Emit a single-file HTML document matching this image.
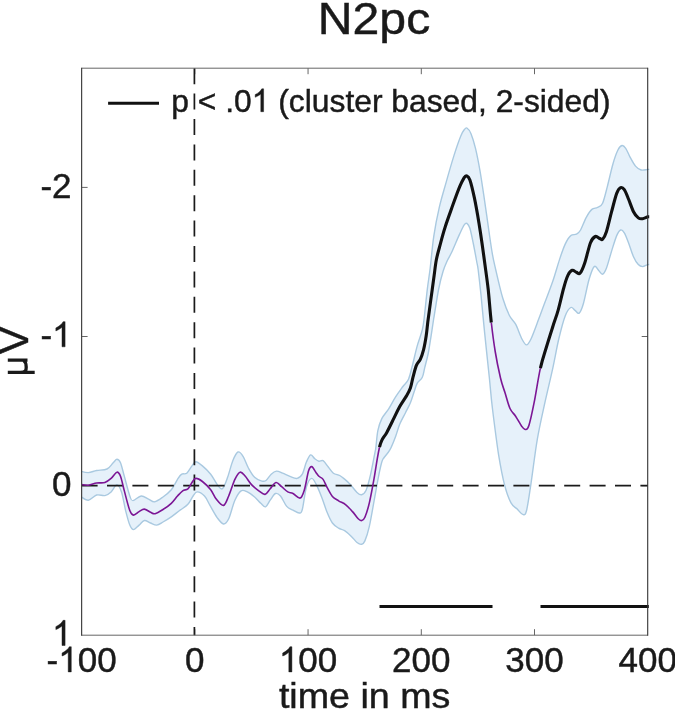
<!DOCTYPE html>
<html><head><meta charset="utf-8"><title>N2pc</title>
<style>
html,body{margin:0;padding:0;background:#fff;}
body{width:675px;height:710px;overflow:hidden;font-family:"Liberation Sans",sans-serif;}
svg{display:block;will-change:transform;}
text{font-family:"Liberation Sans",sans-serif;fill:#1a1a1a;stroke:#1a1a1a;stroke-width:0.45px;}
</style></head><body>
<svg width="675" height="710" viewBox="0 0 675 710">
<defs>
<clipPath id="ax"><rect x="81.6" y="68.2" width="567.6" height="567.0"/></clipPath>
</defs>
<rect width="675" height="710" fill="#fff"/>
<g stroke="#666" stroke-width="1.0" fill="none"><path d="M194.8 635.2V629.2M194.8 68.2V74.2"/><path d="M308.05 635.2V629.2M308.05 68.2V74.2"/><path d="M421.3 635.2V629.2M421.3 68.2V74.2"/><path d="M534.5 635.2V629.2M534.5 68.2V74.2"/><path d="M81.6 187.4H87.6M647.7 187.4H641.7"/><path d="M81.6 336.5H87.6M647.7 336.5H641.7"/><path d="M81.6 485.7H87.6M647.7 485.7H641.7"/></g>
<g clip-path="url(#ax)">
<path d="M80.0 471.1C81.4 471.4 85.5 472.7 88.3 472.6C91.1 472.5 93.5 471.1 96.6 470.5C99.7 469.9 104.2 470.3 107.0 469.0C109.8 467.7 111.5 464.4 113.2 462.8C114.9 461.2 115.7 459.3 116.9 459.3C118.1 459.3 119.2 459.8 120.5 462.8C121.8 465.8 123.0 471.8 124.6 477.3C126.1 482.8 128.4 492.1 129.8 496.0C131.2 499.9 131.0 500.6 132.9 500.6C134.8 500.6 138.6 496.2 141.2 496.0C143.8 495.8 146.2 498.1 148.5 499.1C150.8 500.1 152.3 502.2 154.7 501.8C157.1 501.4 160.2 499.0 163.0 497.0C165.8 495.0 168.9 492.7 171.3 489.8C173.7 486.9 175.8 482.0 177.5 479.4C179.2 476.8 180.1 475.2 181.7 474.2C183.2 473.2 185.1 474.6 186.8 473.2C188.5 471.8 190.5 467.8 192.0 465.9C193.5 464.0 194.1 461.8 195.8 461.8C197.5 461.8 199.9 463.8 202.4 465.9C204.9 468.0 208.2 471.1 210.7 474.2C213.2 477.3 215.4 482.2 217.3 484.6C219.2 487.0 220.7 490.0 222.4 488.8C224.1 487.6 225.9 482.0 227.6 477.3C229.3 472.6 231.1 464.9 232.8 460.7C234.5 456.5 236.3 452.7 238.0 452.0C239.7 451.3 241.5 453.9 243.2 456.6C244.9 459.3 246.5 464.6 248.4 468.0C250.3 471.4 252.3 475.1 254.6 477.3C256.8 479.5 260.0 480.6 261.9 481.1C263.8 481.6 264.4 481.6 266.0 480.5C267.6 479.4 269.5 475.8 271.2 474.2C272.9 472.6 274.5 471.3 276.4 471.1C278.3 470.9 280.4 472.3 282.6 473.2C284.9 474.1 287.5 475.4 289.9 476.3C292.3 477.2 295.0 478.8 297.1 478.4C299.2 478.0 300.7 477.0 302.3 474.2C303.9 471.4 305.1 465.0 306.5 461.8C307.9 458.6 309.2 455.4 310.6 454.9C312.0 454.4 313.4 457.6 314.8 458.7C316.2 459.8 317.5 460.9 318.9 461.2C320.3 461.5 321.5 459.7 323.1 460.7C324.7 461.7 326.6 464.9 328.3 467.0C330.0 469.1 331.5 471.8 333.4 473.2C335.3 474.6 337.8 474.5 339.7 475.5C341.6 476.5 343.1 477.9 344.9 479.4C346.7 480.9 348.3 482.3 350.3 484.5C352.3 486.7 355.1 490.7 357.0 492.4C358.9 494.1 360.1 495.1 361.6 494.7C363.1 494.3 364.6 493.6 366.1 490.2C367.6 486.8 369.1 480.8 370.6 474.4C372.1 468.0 374.2 456.3 375.1 451.8C376.0 447.3 375.4 450.8 375.9 447.2C376.4 443.6 376.9 435.2 377.9 430.4C378.9 425.6 380.0 422.2 381.8 418.6C383.6 415.0 386.4 412.4 388.7 408.8C391.0 405.2 393.3 400.5 395.6 396.9C397.9 393.3 400.4 389.9 402.5 387.0C404.6 384.1 406.9 382.8 408.5 379.2C410.1 375.6 410.9 371.0 412.4 365.4C413.9 359.8 415.6 351.5 417.3 345.6C419.0 339.7 421.2 334.5 422.3 329.9C423.4 325.3 423.4 324.8 424.2 318.0C425.0 311.2 426.3 297.6 427.3 289.3C428.3 281.0 429.1 276.9 430.2 268.0C431.3 259.1 432.3 246.4 433.8 236.2C435.3 226.0 437.3 215.9 439.4 206.9C441.5 197.9 443.8 190.7 446.2 182.1C448.6 173.5 451.7 162.8 454.1 155.1C456.5 147.4 459.1 140.1 460.8 135.9C462.5 131.7 463.2 131.1 464.2 129.8C465.2 128.5 465.8 127.4 466.9 128.0C468.0 128.7 469.6 130.3 471.0 133.7C472.4 137.1 474.0 142.1 475.5 148.3C477.0 154.5 478.5 162.2 480.0 170.8C481.5 179.4 483.0 189.9 484.5 200.1C486.0 210.2 487.7 222.7 489.0 231.7C490.3 240.7 491.3 247.8 492.4 254.2C493.5 260.6 494.1 262.6 495.8 270.0C497.5 277.4 500.5 290.7 502.8 298.3C505.1 305.9 507.3 311.2 509.4 315.5C511.5 319.8 513.5 320.3 515.6 324.2C517.7 328.1 520.0 335.2 521.8 338.7C523.6 342.1 525.0 344.9 526.5 344.9C528.0 344.9 529.0 343.1 531.1 338.7C533.2 334.3 536.7 324.3 538.9 318.6C541.1 312.9 541.8 310.7 544.1 304.6C546.4 298.5 549.9 289.6 552.5 282.1C555.1 274.6 557.4 265.9 559.5 259.6C561.6 253.3 563.3 248.1 565.2 244.1C567.1 240.1 568.9 237.2 570.8 235.6C572.7 233.9 574.8 235.1 576.4 234.2C578.0 233.3 579.0 232.8 580.6 230.0C582.2 227.2 584.4 220.7 586.3 217.3C588.2 213.9 590.0 211.0 591.9 209.4C593.8 207.8 595.7 208.5 597.5 207.5C599.3 206.5 601.0 206.7 602.6 203.2C604.2 199.7 605.7 192.9 607.4 186.3C609.1 179.7 611.3 169.8 613.0 163.8C614.7 157.8 616.3 153.4 617.8 150.3C619.3 147.2 620.7 145.8 622.0 145.5C623.3 145.2 624.4 146.4 625.7 148.3C627.0 150.2 628.3 153.8 629.9 156.8C631.5 159.8 633.6 163.9 635.5 166.1C637.4 168.3 639.0 169.4 641.1 170.0C643.2 170.6 646.4 169.5 648.0 169.4C649.6 169.3 650.5 169.4 651.0 169.4L651.0 264.6C650.5 264.6 649.4 264.3 648.0 264.6C646.6 264.9 644.2 266.6 642.6 266.6C641.0 266.6 639.8 266.2 638.3 264.6C636.8 263.0 635.1 260.5 633.5 256.8C631.9 253.2 630.0 246.7 628.5 242.7C627.0 238.7 625.6 234.9 624.3 232.8C623.0 230.7 621.9 229.5 620.6 230.0C619.3 230.5 618.2 232.1 616.7 235.6C615.2 239.1 613.3 245.7 611.6 251.1C609.9 256.5 608.0 264.1 606.5 268.0C605.0 271.9 603.9 273.7 602.6 274.2C601.3 274.7 600.3 272.1 598.9 270.8C597.5 269.5 595.8 265.2 594.2 266.6C592.6 268.0 590.9 273.2 589.1 279.3C587.3 285.4 585.1 297.6 583.5 303.2C581.9 308.8 580.6 311.9 579.2 313.1C577.8 314.3 576.4 311.2 575.0 310.3C573.6 309.4 572.4 306.6 570.8 307.5C569.2 308.4 567.2 310.8 565.2 315.9C563.2 321.0 561.1 329.3 559.0 338.0C556.9 346.7 555.1 357.4 552.8 368.1C550.5 378.8 547.6 390.3 545.0 402.2C542.4 414.1 539.6 426.0 537.3 439.4C535.0 452.8 532.9 470.9 531.1 482.8C529.3 494.7 527.9 505.4 526.5 510.7C525.1 516.0 524.2 514.7 522.7 514.4C521.2 514.1 519.2 511.0 517.2 509.1C515.2 507.2 513.1 506.8 511.0 502.9C508.9 499.0 506.9 493.9 504.8 485.9C502.7 477.9 500.7 467.7 498.6 454.9C496.6 442.1 494.1 421.9 492.5 409.0C490.9 396.1 490.6 389.6 489.3 377.2C488.0 364.8 486.2 348.1 484.8 334.4C483.4 320.7 482.1 305.7 481.0 295.0C479.9 284.3 478.9 275.7 478.2 270.0C477.5 264.3 477.4 265.5 476.6 261.0C475.8 256.5 474.3 248.4 473.2 243.0C472.1 237.6 470.9 231.6 469.9 228.3C468.8 225.0 467.8 224.0 466.9 223.4C465.9 222.8 465.4 223.2 464.2 224.9C463.0 226.7 461.8 229.4 459.7 233.9C457.6 238.4 453.8 247.7 451.8 252.0C449.8 256.4 449.1 256.8 447.6 260.0C446.2 263.2 444.6 266.4 443.1 271.3C441.6 276.2 440.1 281.8 438.6 289.3C437.1 296.8 435.0 311.2 434.1 316.3C433.2 321.4 434.0 316.8 433.5 320.0C433.0 323.2 432.0 330.2 431.1 335.8C430.2 341.4 429.2 348.2 428.2 353.5C427.1 358.8 425.8 363.4 424.8 367.3C423.8 371.2 423.6 374.6 422.3 377.2C421.1 379.8 418.6 380.8 417.3 383.1C416.0 385.4 415.5 387.7 414.4 391.0C413.2 394.3 411.9 399.2 410.4 402.8C408.9 406.4 407.3 409.1 405.5 412.7C403.7 416.3 401.2 420.6 399.6 424.5C398.0 428.4 397.2 432.1 395.6 436.4C394.0 440.7 391.7 446.6 389.7 450.2C387.7 453.8 385.1 456.0 383.8 458.0C382.5 460.0 382.7 458.9 381.8 462.0C380.9 465.1 379.8 470.0 378.5 476.6C377.2 483.2 375.5 493.1 374.0 501.4C372.5 509.7 370.9 519.6 369.4 526.2C367.9 532.8 366.2 537.9 364.9 540.9C363.6 543.9 362.9 544.0 361.6 544.3C360.3 544.6 358.7 543.8 357.0 542.5C355.3 541.2 353.5 538.4 351.4 536.4C349.3 534.4 346.7 532.1 344.6 530.7C342.5 529.3 340.6 529.5 338.6 528.2C336.6 526.9 334.3 525.6 332.4 523.0C330.5 520.4 328.9 516.8 327.2 512.6C325.5 508.5 323.7 502.6 322.0 498.1C320.3 493.6 318.5 488.9 316.8 485.6C315.1 482.3 313.4 478.2 311.7 478.4C310.0 478.6 308.1 481.5 306.5 486.7C304.9 491.9 303.5 505.1 302.3 509.5C301.1 513.9 300.8 512.9 299.2 513.0C297.6 513.1 295.1 511.2 293.0 510.1C290.9 509.0 288.8 508.8 286.7 506.4C284.6 504.0 282.4 498.1 280.5 496.0C278.6 493.9 277.1 492.8 275.4 493.5C273.7 494.2 271.8 498.0 270.2 500.2C268.6 502.4 267.2 506.3 265.6 506.8C264.0 507.3 262.6 504.9 260.8 503.3C259.0 501.7 256.9 498.9 254.6 497.0C252.3 495.1 249.6 492.9 247.3 491.9C245.1 490.9 243.2 489.4 241.1 490.8C239.0 492.2 237.0 495.5 234.9 500.2C232.8 504.9 230.6 514.8 228.7 518.8C226.8 522.8 225.4 524.2 223.5 524.0C221.6 523.8 219.6 520.9 217.3 517.8C215.1 514.7 212.1 509.0 210.0 505.4C207.9 501.8 206.6 498.2 204.5 496.0C202.4 493.8 199.1 491.9 197.2 491.9C195.3 491.9 194.6 493.9 193.1 496.0C191.6 498.1 190.2 501.9 187.9 504.3C185.7 506.7 182.4 508.4 179.6 510.5C176.8 512.6 174.1 514.9 171.3 516.8C168.5 518.7 165.4 520.6 163.0 522.0C160.6 523.4 158.9 524.9 156.8 525.1C154.7 525.3 152.6 523.8 150.5 523.0C148.4 522.2 146.2 520.1 144.3 520.5C142.4 520.9 140.9 523.6 139.1 525.1C137.3 526.6 135.1 529.6 133.5 529.6C131.9 529.6 131.1 528.3 129.8 525.1C128.5 521.9 127.0 516.0 125.6 510.5C124.2 505.0 123.0 496.2 121.5 491.9C120.0 487.6 118.6 484.6 116.9 484.6C115.2 484.6 113.1 490.1 111.1 491.9C109.1 493.7 107.3 495.1 104.9 495.6C102.5 496.1 99.4 494.2 96.6 495.0C93.8 495.8 91.1 500.0 88.3 500.2C85.5 500.4 81.4 496.7 80.0 496.0Z" fill="#e6f1fa" stroke="#a9c9e0" stroke-width="1.4" stroke-linejoin="round"/>
</g>
<g stroke="#1a1a1a" stroke-width="1.7" fill="none" stroke-dasharray="16 9.4">
<path d="M81.6 485.7H647.7" stroke-dashoffset="0"/>
<path d="M194.4 68.2V635.2" stroke-dashoffset="0"/>
</g>
<g clip-path="url(#ax)" fill="none" stroke-linejoin="round">
<path d="M80.0 484.2C81.4 484.4 85.5 485.4 88.3 485.2C91.1 485.0 93.8 483.4 96.6 483.0C99.4 482.6 102.5 483.3 104.9 482.5C107.3 481.7 109.1 480.1 111.1 478.4C113.1 476.7 115.3 472.5 116.9 472.2C118.5 471.9 119.2 473.0 120.5 476.3C121.8 479.6 123.0 486.2 124.6 491.9C126.1 497.6 128.3 506.6 129.8 510.5C131.3 514.4 131.9 514.9 133.5 515.1C135.1 515.3 137.3 512.6 139.1 511.6C140.9 510.6 142.4 509.0 144.3 509.1C146.2 509.2 148.7 511.4 150.5 512.2C152.3 513.0 153.0 514.2 155.1 513.7C157.2 513.2 160.3 511.2 163.0 509.5C165.7 507.8 168.9 505.6 171.3 503.3C173.7 501.1 175.6 498.1 177.5 496.0C179.4 493.9 181.0 492.0 182.7 490.8C184.4 489.6 186.3 490.2 187.9 488.8C189.5 487.4 190.7 484.2 192.0 482.5C193.3 480.8 194.1 478.6 195.8 478.4C197.5 478.2 199.9 479.6 202.4 481.5C204.9 483.4 208.4 486.9 210.7 489.8C213.0 492.7 214.1 496.5 216.2 499.1C218.3 501.7 221.4 505.9 223.5 505.4C225.6 504.9 226.8 500.3 228.7 496.0C230.6 491.7 233.0 483.4 234.9 479.4C236.8 475.4 238.4 472.7 240.1 472.2C241.8 471.7 243.4 474.2 245.3 476.3C247.2 478.4 249.2 482.2 251.5 484.6C253.8 487.0 256.6 489.2 258.8 490.8C261.1 492.4 263.1 494.7 265.0 494.4C266.9 494.1 268.4 490.8 270.2 488.8C272.0 486.8 274.1 482.9 276.0 482.5C277.9 482.1 279.6 485.1 281.6 486.7C283.6 488.3 285.9 490.8 287.8 491.9C289.7 493.0 290.9 492.5 293.0 493.5C295.1 494.5 298.3 498.7 300.2 498.1C302.1 497.5 303.0 494.3 304.4 489.8C305.8 485.3 307.3 475.0 308.5 471.1C309.7 467.2 310.5 466.4 311.7 466.6C312.9 466.8 314.6 470.6 315.8 472.2C317.0 473.8 317.7 475.1 318.9 476.3C320.1 477.5 321.7 477.5 323.1 479.4C324.5 481.3 325.6 484.9 327.2 487.7C328.8 490.5 330.5 494.2 332.4 496.4C334.3 498.6 336.4 499.4 338.6 500.8C340.8 502.2 343.5 503.0 345.8 504.8C348.1 506.6 350.4 509.3 352.5 511.6C354.6 513.9 356.7 517.3 358.2 518.8C359.7 520.3 360.5 520.9 361.6 520.6C362.7 520.3 363.6 520.2 364.9 517.2C366.2 514.2 367.9 509.0 369.4 502.6C370.9 496.2 372.7 486.2 374.0 478.9C375.3 471.6 376.4 463.9 377.3 458.6C378.2 453.3 378.8 450.2 379.5 447.2M491.3 322.5C492.5 332.9 493.7 342.2 495.2 351.5C496.7 360.8 498.9 371.1 500.5 378.0C502.1 384.9 503.5 387.9 505.1 393.0C506.7 398.1 508.2 404.6 510.0 408.5C511.8 412.4 513.6 413.2 515.6 416.2C517.6 419.2 520.1 424.2 521.8 426.4C523.4 428.6 524.3 429.6 525.5 429.5C526.7 429.4 527.4 430.1 528.9 425.5C530.4 420.9 532.3 411.8 534.2 402.2C536.1 392.6 538.3 377.4 540.4 368.1" stroke="#7c1695" stroke-width="1.6"/>
<path d="M379.5 447.2C380.2 444.1 380.6 442.8 381.8 440.3C383.0 437.8 384.8 436.0 386.8 432.4C388.8 428.8 391.6 422.9 393.7 418.6C395.8 414.3 397.5 410.6 399.6 406.8C401.7 403.0 404.7 399.0 406.5 395.9C408.3 392.8 409.3 391.1 410.4 388.0C411.5 384.9 412.0 381.0 413.0 377.2C414.0 373.4 415.2 368.4 416.4 365.4C417.6 362.4 419.1 362.0 420.3 359.4C421.5 356.8 422.6 353.5 423.6 349.6C424.6 345.7 425.5 340.4 426.2 335.8C426.9 331.2 427.1 327.9 427.8 322.0C428.6 316.1 429.6 308.3 430.7 300.6C431.8 292.9 433.2 282.6 434.1 275.8C435.0 269.0 435.4 264.7 436.3 260.0C437.2 255.3 437.9 253.0 439.4 247.5C440.9 242.0 442.8 234.3 445.1 227.2C447.4 220.0 450.6 211.4 453.0 204.6C455.4 197.8 457.8 191.1 459.7 186.6C461.6 182.1 463.1 179.4 464.2 177.6C465.3 175.8 465.6 175.4 466.5 175.8C467.4 176.2 468.6 176.2 469.9 179.9C471.2 183.6 472.9 190.8 474.4 197.9C475.9 205.0 477.6 214.8 478.9 222.7C480.2 230.6 481.3 238.1 482.3 245.2C483.3 252.2 484.0 257.6 485.0 265.0C486.0 272.4 487.1 279.7 488.2 289.3C489.2 298.9 490.1 312.1 491.3 322.5M540.4 368.1C542.5 358.8 544.5 353.5 546.6 346.5C548.7 339.5 551.1 332.0 553.0 326.0C554.9 320.0 556.3 316.7 558.1 310.3C559.9 303.9 562.1 293.6 563.8 287.7C565.4 281.8 566.6 278.0 568.0 275.1C569.4 272.2 570.8 270.8 572.2 270.3C573.6 269.8 575.1 271.8 576.4 272.3C577.7 272.8 578.7 274.8 580.1 273.1C581.5 271.5 583.2 267.5 584.9 262.4C586.6 257.3 588.8 247.0 590.5 242.7C592.2 238.4 593.8 237.2 595.3 236.5C596.8 235.8 598.6 238.0 599.8 238.5C601.0 239.0 601.5 240.5 602.6 239.3C603.7 238.1 605.0 236.0 606.5 231.4C608.0 226.8 609.9 218.0 611.6 211.7C613.3 205.4 615.2 197.4 616.7 193.4C618.2 189.4 619.3 188.3 620.6 187.7C621.9 187.1 623.0 187.8 624.3 189.7C625.6 191.6 627.0 195.3 628.5 199.0C630.0 202.7 631.9 208.5 633.5 211.7C635.1 214.8 636.8 216.7 638.3 217.9C639.8 219.1 641.0 218.9 642.6 218.7C644.2 218.5 646.6 217.1 648.0 216.8C649.4 216.5 650.5 216.8 651.0 216.8" stroke="#111" stroke-width="3.1"/>
</g>
<g stroke="#111" stroke-width="3.2" fill="none">
<path d="M379.5 606.5H492.5M540.5 606.5H648.8000000000001"/>
<path d="M108.1 103.2H159.0" stroke-width="3"/>
</g>
<path d="M647.7 68.2H81.6V635.2H647.7" fill="none" stroke="#666" stroke-width="1.0"/>
<path d="M647.7 67.7V635.7" stroke="#333" stroke-width="1.1" fill="none"/>
<path d="M81.6 67.7V635.7" stroke="#444" stroke-width="1.1" fill="none"/>
<g font-size="35"><text x="46.58" y="671.9">-</text><path d="M763 0H583V1147Q518 1085 412.5 1023Q307 961 223 930V1104Q374 1175 487 1276Q600 1377 647 1472H763Z" transform="translate(58.24 671.90) scale(0.01709 -0.01709)" fill="#1a1a1a" stroke="#1a1a1a" stroke-width="26.3"/><text x="77.70" y="671.9">00</text><text x="185.07" y="671.9">0</text><path d="M763 0H583V1147Q518 1085 412.5 1023Q307 961 223 930V1104Q374 1175 487 1276Q600 1377 647 1472H763Z" transform="translate(278.86 671.90) scale(0.01709 -0.01709)" fill="#1a1a1a" stroke="#1a1a1a" stroke-width="26.3"/><text x="298.32" y="671.9">00</text><text x="392.11" y="671.9">200</text><text x="505.31" y="671.9">300</text><text x="618.51" y="671.9">400</text><text x="40.38" y="197.7">-2</text><text x="40.38" y="346.8">-</text><path d="M763 0H583V1147Q518 1085 412.5 1023Q307 961 223 930V1104Q374 1175 487 1276Q600 1377 647 1472H763Z" transform="translate(52.04 346.80) scale(0.01709 -0.01709)" fill="#1a1a1a" stroke="#1a1a1a" stroke-width="26.3"/><text x="52.04" y="496.0">0</text><path d="M763 0H583V1147Q518 1085 412.5 1023Q307 961 223 930V1104Q374 1175 487 1276Q600 1377 647 1472H763Z" transform="translate(52.04 645.50) scale(0.01709 -0.01709)" fill="#1a1a1a" stroke="#1a1a1a" stroke-width="26.3"/></g>
<g font-size="31.8"><text x="171.3" y="111.7">p &lt; .0</text><path d="M763 0H583V1147Q518 1085 412.5 1023Q307 961 223 930V1104Q374 1175 487 1276Q600 1377 647 1472H763Z" transform="translate(251.75 111.70) scale(0.01553 -0.01553)" fill="#1a1a1a" stroke="#1a1a1a" stroke-width="29.0"/><text x="269.43" y="111.7" style="white-space:pre"> (cluster based, 2-sided)</text></g>
<text x="374.0" y="33.8" font-size="45" text-anchor="middle" textLength="112.5" lengthAdjust="spacingAndGlyphs">N2pc</text>
<text x="364.6" y="707.8" font-size="35" text-anchor="middle" textLength="171.4" lengthAdjust="spacingAndGlyphs">time in ms</text>
<g transform="translate(27.5 372.4) rotate(-90)">
<path d="M0 -19.7V7.2M12.2 -19.7V0M0 -7C0 -1 3 -1.3 5.5 -1.3C8.5 -1.3 10.5 -1.8 12.2 -4" fill="none" stroke="#1a1a1a" stroke-width="3.3"/>
<text x="32.1" y="0" font-size="41" text-anchor="middle">V</text>
</g>
</svg>
</body></html>
